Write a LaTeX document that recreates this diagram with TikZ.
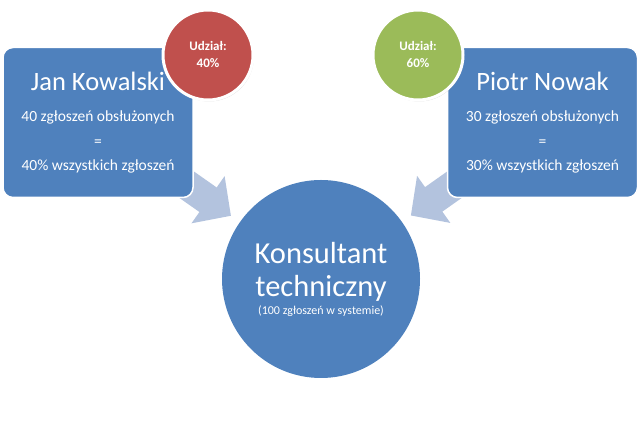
\documentclass[tikz,border=0pt]{standalone}
\usepackage{fontspec}
\setmainfont{Carlito}
\usetikzlibrary{arrows.meta, positioning, backgrounds, shadows}
\definecolor{kblue}{HTML}{4F81BD}
\definecolor{karrow}{HTML}{B3C3DE}
\definecolor{kred}{HTML}{C0504D}
\definecolor{kgreen}{HTML}{9BBB59}

\tikzset{
  personbox/.style={rectangle, rounded corners=10pt, fill=kblue, draw=white, line width=1.5pt,
    minimum width=190pt, minimum height=150pt, text=white, align=center, inner sep=0pt, outer sep=0pt,
    font=\fontsize{15.5}{24.5}\selectfont},
  sharebubble/.style={circle, fill=#1, draw=white, line width=3pt, minimum size=90pt, inner sep=0pt,
    text=white, align=center, font=\fontsize{13}{17}\selectfont\bfseries,
    drop shadow={opacity=0.25, shadow xshift=1pt, shadow yshift=-1.5pt}},
  hubcircle/.style={circle, fill=kblue, minimum size=198pt, inner sep=0pt, outer sep=0pt,
    text=white, align=center, font=\fontsize{30.5}{33}\selectfont},
  flowarrow/.style={karrow, line width=30pt, -{Triangle[width=56pt, length=28pt]}, shorten >=11pt},
}

\begin{document}
\begin{tikzpicture}[x=1pt, y=1pt]
  \useasboundingbox (0,0) rectangle (642,427);

  %% people
  \node[personbox] (jan) at (98,304.5)
    {{\fontsize{26.5}{26.5}\selectfont Jan Kowalski}\\[7pt]
     40 zgłoszeń obsłużonych\\=\\40\% wszystkich zgłoszeń};
  \node[personbox] (piotr) at (542.5,304.5)
    {{\fontsize{26.5}{26.5}\selectfont Piotr Nowak}\\[7pt]
     30 zgłoszeń obsłużonych\\=\\30\% wszystkich zgłoszeń};

  %% shares
  \node[sharebubble=kred] (janshare) at (208,372) {Udział:\\40\%};
  \node[sharebubble=kgreen] (piotrshare) at (418,372) {Udział:\\60\%};

  %% consultant
  \node[hubcircle] (kons) at (321,148)
    {Konsultant\\techniczny\\[-15pt]{\fontsize{12}{14}\selectfont (100 zgłoszeń w systemie)}};

  %% arrows behind the boxes
  \begin{scope}[on background layer]
    \draw[flowarrow] (jan.center) -- (kons);
    \draw[flowarrow] (piotr.center) -- (kons);
  \end{scope}

\end{tikzpicture}
\end{document}
